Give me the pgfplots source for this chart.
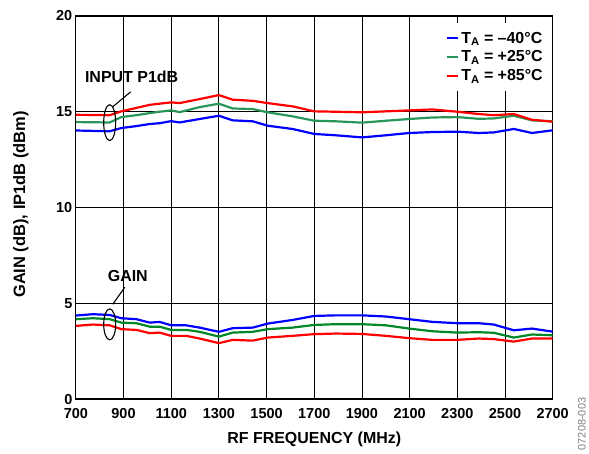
\documentclass[border=0pt]{standalone}
\usepackage{pgfplots}
\pgfplotsset{compat=1.18}
\usepackage{fontspec}
\setmainfont{Liberation Sans}
\definecolor{cblue}{RGB}{0,0,255}
\definecolor{cgreen}{RGB}{0,135,40}
\definecolor{cgreenb}{RGB}{40,150,90}
\definecolor{cred}{RGB}{255,0,0}
\begin{document}
\begin{tikzpicture}
\path (-76pt,-53pt) rectangle (513pt,400pt);
\begin{axis}[
  scale only axis,
  width=478pt, height=384pt,
  xmin=700, xmax=2700, ymin=0, ymax=20,
  xtick={700,900,...,2700},
  ytick={0,5,10,15,20},
  grid=major,
  grid style={black, line width=0.8pt},
  axis line style={line width=1.2pt},
  major tick length=3pt,
  tick style={black, line width=0.8pt},
  /pgf/number format/assume math mode=true,
  /pgf/number format/1000 sep={},
  ticklabel style={font=\fontsize{14.5}{16}\selectfont\bfseries},
  xticklabel style={yshift=-6pt},
  xlabel={RF FREQUENCY (MHz)},
  ylabel={GAIN (dB), IP1dB (dBm)},
  every axis x label/.style={at={(axis description cs:0.5,-0.104)}, anchor=center, font=\fontsize{16}{18}\selectfont\bfseries},
  every axis y label/.style={at={(axis description cs:-0.115,0.508)}, rotate=90, anchor=center, font=\fontsize{16.5}{18}\selectfont\bfseries},
  legend style={at={(axis description cs:0.99,0.982)}, anchor=north east, draw=none, fill=white,
    font=\fontsize{16}{18}\selectfont\bfseries, row sep=2pt, inner xsep=3pt, inner ysep=7pt},
  legend cell align=left,
  legend image code/.code={\draw[#1, line width=2pt] (0cm,0cm) -- (0.38cm,0cm);},
  clip=false,
]
% gain
\addplot[cblue, line width=2.2pt, forget plot] coordinates {
(700,4.36) (772,4.43) (842,4.39) (891,4.22) (954,4.17) (1010,3.99) (1051,4.03) (1100,3.85) (1163,3.85) (1219,3.73) (1300,3.51) (1358,3.70) (1442,3.73) (1505,3.94) (1609,4.13) (1700,4.34) (1791,4.37) (1900,4.37) (2000,4.31) (2098,4.17) (2195,4.03) (2300,3.96) (2390,3.96) (2453,3.89) (2537,3.59) (2613,3.68) (2700,3.52)
};
\addplot[cgreen, line width=2.2pt, forget plot] coordinates {
(700,4.17) (772,4.22) (842,4.17) (891,3.99) (954,3.96) (1010,3.78) (1051,3.78) (1100,3.61) (1163,3.61) (1219,3.51) (1300,3.26) (1358,3.47) (1442,3.51) (1505,3.65) (1609,3.73) (1700,3.87) (1791,3.91) (1900,3.91) (2000,3.85) (2098,3.68) (2195,3.54) (2300,3.47) (2390,3.49) (2453,3.46) (2537,3.21) (2613,3.37) (2700,3.33)
};
\addplot[cred, line width=2.2pt, forget plot] coordinates {
(700,3.82) (772,3.89) (842,3.85) (891,3.65) (954,3.61) (1010,3.44) (1051,3.47) (1100,3.30) (1163,3.30) (1219,3.16) (1300,2.92) (1358,3.09) (1442,3.05) (1505,3.21) (1609,3.30) (1700,3.39) (1791,3.42) (1900,3.40) (2000,3.30) (2098,3.18) (2195,3.09) (2300,3.09) (2390,3.16) (2453,3.13) (2537,3.00) (2613,3.16) (2700,3.16)
};
% input P1dB
\addplot[cblue, line width=2.2pt] coordinates {
(700,14.02) (772,14.00) (842,13.98) (891,14.15) (954,14.25) (1010,14.36) (1051,14.40) (1100,14.51) (1135,14.44) (1219,14.62) (1300,14.79) (1358,14.55) (1442,14.50) (1505,14.27) (1609,14.10) (1700,13.84) (1791,13.77) (1900,13.66) (2000,13.77) (2098,13.89) (2195,13.94) (2300,13.96) (2390,13.89) (2453,13.92) (2537,14.10) (2613,13.89) (2700,14.03)
};
\addlegendentry{T\textsubscript{A} = –40°C}
\addplot[cgreenb, line width=2.2pt] coordinates {
(700,14.46) (772,14.45) (842,14.44) (891,14.72) (954,14.82) (1010,14.93) (1051,15.00) (1100,15.07) (1135,14.98) (1219,15.24) (1300,15.42) (1358,15.17) (1442,15.14) (1505,14.97) (1609,14.76) (1700,14.53) (1791,14.50) (1900,14.43) (2000,14.53) (2098,14.62) (2195,14.70) (2300,14.72) (2390,14.63) (2453,14.65) (2537,14.79) (2613,14.55) (2700,14.50)
};
\addlegendentry{T\textsubscript{A} = +25°C}
\addplot[cred, line width=2.2pt] coordinates {
(700,14.84) (772,14.83) (842,14.82) (891,15.02) (954,15.20) (1010,15.36) (1051,15.42) (1100,15.49) (1135,15.45) (1219,15.66) (1300,15.87) (1358,15.63) (1442,15.57) (1505,15.45) (1609,15.28) (1700,15.02) (1791,15.00) (1900,14.97) (2000,15.02) (2098,15.07) (2195,15.12) (2300,15.00) (2390,14.88) (2453,14.82) (2537,14.88) (2613,14.58) (2700,14.48)
};
\addlegendentry{T\textsubscript{A} = +85°C}
% annotations
\draw[line width=1.1pt] (axis cs:842,14.43) ellipse [x radius=6pt, y radius=18pt];
\draw[line width=1.1pt] (axis cs:855,15.26) -- (axis cs:930,16.04);
\node[font=\fontsize{16}{18}\selectfont\bfseries] at (axis cs:934,16.82) {INPUT P1dB};
\draw[line width=1.1pt] (axis cs:842,3.9) ellipse [x radius=6pt, y radius=15.5pt];
\draw[line width=1.1pt] (axis cs:855,4.95) -- (axis cs:905,5.83);
\node[font=\fontsize{16}{18}\selectfont\bfseries] at (axis cs:918,6.41) {GAIN};
\node[rotate=90, text=gray, font=\fontsize{11}{12}\selectfont] at (axis description cs:1.061,-0.065) {07208-003};
\end{axis}
\end{tikzpicture}
\end{document}
